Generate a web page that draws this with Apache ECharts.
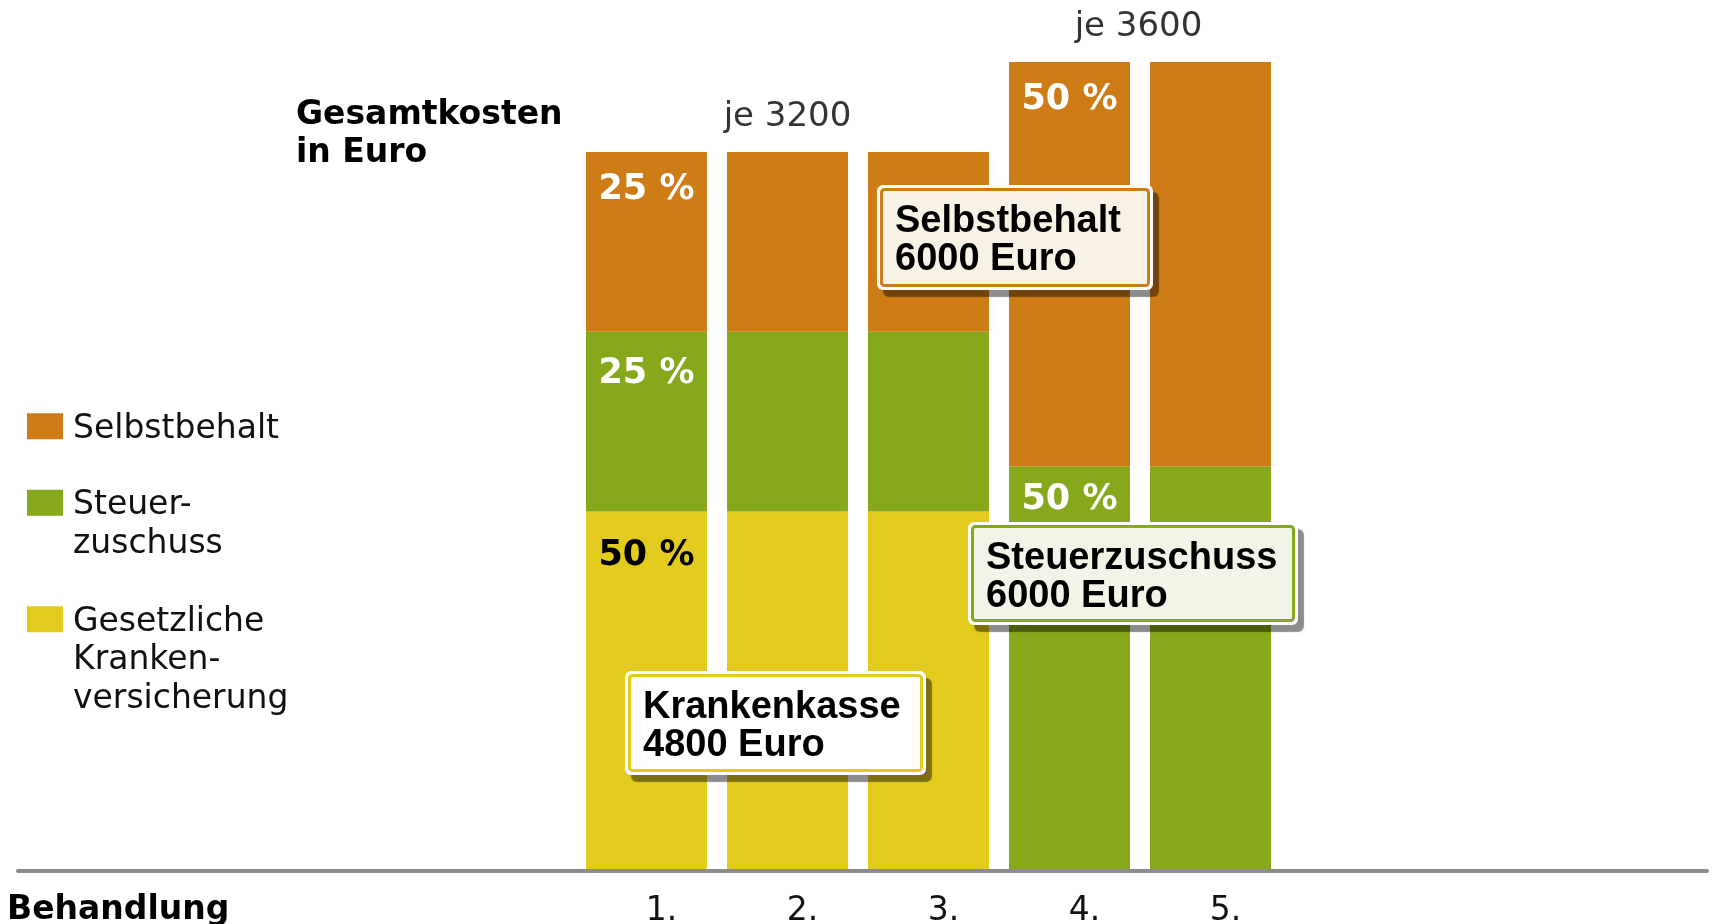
<!DOCTYPE html>
<html>
<head>
<meta charset="utf-8">
<script src="https://cdn.jsdelivr.net/npm/echarts@6/dist/echarts.min.js"></script>
<style>
    html, body { margin: 0; padding: 0; background: #fff; }
    #chart { width: 1712px; height: 924px; }
</style>
</head>
<body>
<div id="chart"></div>
<script>
// Daten
const categories = ['1.', '2.', '3.', '4.', '5.'];
const krankenkasse = [1600, 1600, 1600, 0, 0];
const steuerzuschuss = [800, 800, 800, 1800, 1800];
const selbstbehalt = [800, 800, 800, 1800, 1800];
const seriesNames = ['Selbstbehalt', 'Steuerzuschuss', 'Gesetzliche Krankenversicherung'];
const legendLabels = [['Selbstbehalt'], ['Steuer-', 'zuschuss'], ['Gesetzliche', 'Kranken-', 'versicherung']];
const pctIdx = [0, 3];   // Balken mit Prozentangabe
const jeIdx = [1, 3];    // Balken mit "je ..." Beschriftung

const ORANGE = '#CD7C16';
const GREEN = '#88A81B';
const YELLOW = '#E3CB1D';
const FONT = '"DejaVu Sans", Verdana, sans-serif';
const BOXFONT = '"Liberation Sans", Arial, sans-serif';

const totals = categories.map((_, i) => krankenkasse[i] + steuerzuschuss[i] + selbstbehalt[i]);

// Abstand der Prozentangabe vom Segmentrand (Balken 1 / Balken 4)
const barData = (values, color, dists) => values.map((v, i) => ({
    value: v,
    label: {
        show: pctIdx.includes(i) && v > 0,
        position: 'insideTop',
        distance: i < 3 ? dists[0] : dists[1],
        formatter: () => Math.round(v / totals[i] * 100) + ' %',
        color: color,
        fontFamily: FONT,
        fontWeight: 'bold',
        fontSize: 35,
        lineHeight: 35
    }
}));

// Anmerkungs-Kaesten
const noteBox = (x, y, w, h, stroke, fill, text) => ({
    type: 'group',
    children: [
        {
            type: 'rect',
            z: 100,
            shape: { x: x, y: y, width: w, height: h, r: 6 },
            style: { fill: '#fff', shadowBlur: 1, shadowOffsetX: 6, shadowOffsetY: 7, shadowColor: 'rgba(0,0,0,0.45)' }
        },
        {
            type: 'rect',
            z: 101,
            shape: { x: x + 4.5, y: y + 4.5, width: w - 9, height: h - 9, r: 3 },
            style: { fill: fill, stroke: stroke, lineWidth: 3 }
        },
        {
            type: 'text',
            z: 102,
            x: x + 18,
            y: y + 18,
            style: {
                text: text,
                fontFamily: BOXFONT,
                fontWeight: 'bold',
                fontSize: 38,
                lineHeight: 37.5,
                fill: '#000'
            }
        }
    ]
});

const legendTops = [404, 442, 520];

const chart = echarts.init(document.getElementById('chart'));
chart.setOption({
    animation: false,
    title: [
        {
            text: 'Gesamtkosten\nin Euro',
            left: 296,
            top: 96,
            padding: 0,
            textStyle: { fontFamily: FONT, fontWeight: 'bold', fontSize: 33, lineHeight: 38, color: '#000' }
        },
        {
            text: 'Behandlung',
            left: 7,
            top: 894,
            padding: 0,
            textStyle: { fontFamily: FONT, fontWeight: 'bold', fontSize: 33, lineHeight: 33, color: '#000' }
        }
    ],
    legend: legendTops.map((t, i) => ({
        left: 27,
        top: t,
        padding: 0,
        orient: 'vertical',
        icon: 'rect',
        itemWidth: 36,
        itemHeight: 26,
        selectedMode: false,
        data: [seriesNames[i]],
        // erste Zeile auf Hoehe des Farbfelds: Leerzeilen davor
        formatter: (name) => {
            const lines = legendLabels[seriesNames.indexOf(name)];
            return '{s| }\n' + '\n'.repeat(lines.length - 1) + lines.map(l => '{t|' + l + '}').join('\n');
        },
        textStyle: {
            fontFamily: FONT, fontSize: 33, lineHeight: 38.5, color: '#111',
            rich: {
                s: { fontSize: 6, lineHeight: 6 },
                t: { fontFamily: FONT, fontSize: 33, lineHeight: 38.5, color: '#111', padding: [0, 0, 0, 5] }
            }
        }
    })),
    grid: [
        { left: 576, right: 431, top: 62, bottom: 53, outerBoundsMode: 'none' },
        { left: 18, right: 5, top: 62, bottom: 53, outerBoundsMode: 'none' }
    ],
    xAxis: [
        {
            type: 'category',
            data: categories,
            axisLine: { show: false },
            axisTick: { show: false },
            axisLabel: {
                margin: 24,
                padding: [0, 0, 0, 30],
                fontFamily: FONT,
                fontSize: 33,
                lineHeight: 33,
                color: '#111'
            }
        },
        {
            gridIndex: 1,
            type: 'value',
            min: 0,
            max: 1,
            z: 10,
            axisLine: { show: true, onZero: false, lineStyle: { color: '#8c8c8c', width: 4 } },
            axisTick: { show: false },
            axisLabel: { show: false },
            splitLine: { show: false }
        }
    ],
    yAxis: [
        { type: 'value', min: 0, max: 3600, show: false },
        { gridIndex: 1, type: 'value', min: 0, max: 1, show: false }
    ],
    series: [
        {
            name: seriesNames[2],
            type: 'bar',
            stack: 'kosten',
            barCategoryGap: '14.2%',
            itemStyle: { color: YELLOW },
            data: barData(krankenkasse, '#000', [27, 26])
        },
        {
            name: seriesNames[1],
            type: 'bar',
            stack: 'kosten',
            itemStyle: { color: GREEN },
            data: barData(steuerzuschuss, '#fff', [25, 16])
        },
        {
            name: seriesNames[0],
            type: 'bar',
            stack: 'kosten',
            itemStyle: { color: ORANGE },
            data: barData(selbstbehalt, '#fff', [21, 20])
        },
        {
            name: 'Summe',
            type: 'scatter',
            symbolSize: 0,
            silent: true,
            data: totals.map((v, i) => ({
                value: v,
                label: {
                    show: jeIdx.includes(i),
                    position: 'top',
                    distance: 18,
                    offset: i === 3 ? [69, 0] : [0, 0],
                    formatter: 'je ' + v,
                    fontFamily: FONT,
                    fontSize: 34,
                    lineHeight: 34,
                    color: '#000'
                }
            }))
        }
    ],
    graphic: [
        noteBox(877, 185, 276, 105, ORANGE, '#F8F1E6', 'Selbstbehalt\n6000 Euro'),
        noteBox(968, 522, 330, 103, GREEN, '#F2F4E7', 'Steuerzuschuss\n6000 Euro'),
        noteBox(625, 671, 301, 104, YELLOW, '#FFFFFF', 'Krankenkasse\n4800 Euro')
    ]
});
</script>
</body>
</html>
